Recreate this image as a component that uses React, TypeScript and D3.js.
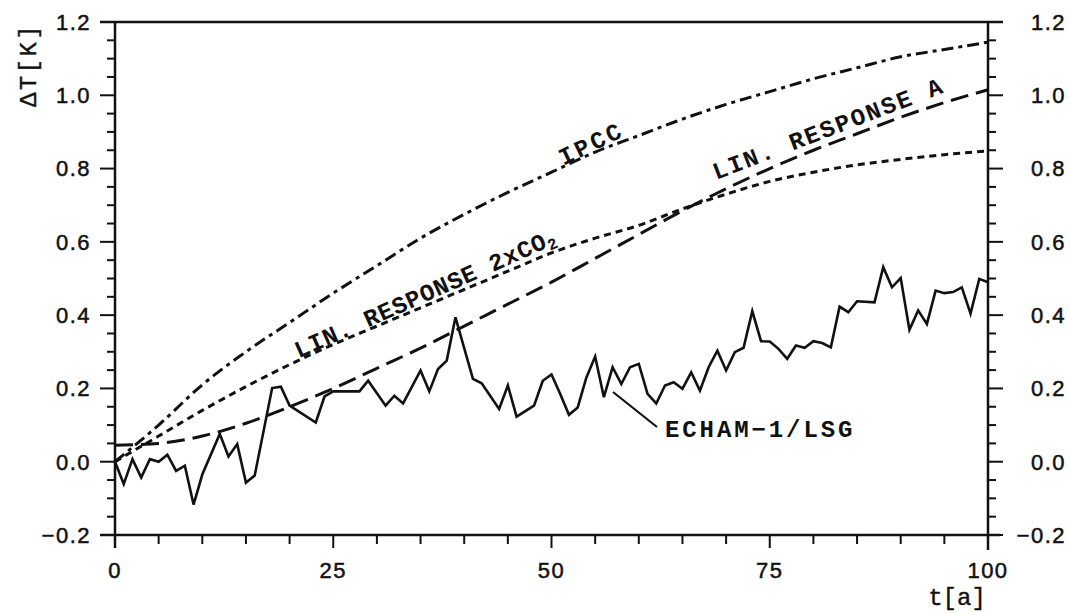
import React from "react";
import * as d3 from "d3";

// ECHAM-1/LSG simulated warming (vertices)
const echamT = [0, 1, 2, 3, 4, 5, 6, 7, 8, 9, 10, 12, 13, 14, 15, 16, 18, 19, 20, 23, 24, 25, 28, 29, 31, 32, 33, 35, 36, 37, 38, 39, 41, 42, 44, 45, 46, 48, 49, 50, 51, 52, 53, 54, 55, 56, 57, 58, 59, 60, 61, 62, 63, 64, 65, 66, 67, 68, 69, 70, 71, 72, 73, 74, 75, 76, 77, 78, 79, 80, 81, 82, 83, 84, 85, 87, 88, 89, 90, 91, 92, 93, 94, 95, 96, 97, 98, 99, 100];
const echamV = [0.0, -0.061, 0.007, -0.043, 0.007, 0.0, 0.019, -0.025, -0.011, -0.117, -0.035, 0.076, 0.014, 0.048, -0.057, -0.038, 0.201, 0.205, 0.153, 0.107, 0.178, 0.192, 0.192, 0.221, 0.153, 0.18, 0.159, 0.249, 0.192, 0.253, 0.276, 0.394, 0.226, 0.214, 0.144, 0.208, 0.123, 0.153, 0.221, 0.238, 0.185, 0.128, 0.148, 0.23, 0.287, 0.176, 0.258, 0.212, 0.258, 0.267, 0.185, 0.159, 0.208, 0.217, 0.199, 0.244, 0.194, 0.258, 0.303, 0.249, 0.299, 0.311, 0.411, 0.329, 0.328, 0.308, 0.281, 0.317, 0.311, 0.329, 0.324, 0.312, 0.423, 0.408, 0.438, 0.435, 0.531, 0.476, 0.501, 0.36, 0.413, 0.376, 0.467, 0.46, 0.463, 0.476, 0.404, 0.499, 0.49];

// smooth response curves
const curveT = [0, 5, 10, 15, 20, 25, 30, 35, 40, 45, 50, 55, 60, 65, 70, 75, 80, 85, 90, 95, 100];
const ipccV = [0.0, 0.1, 0.21, 0.3, 0.38, 0.46, 0.535, 0.61, 0.675, 0.735, 0.79, 0.845, 0.89, 0.935, 0.975, 1.01, 1.045, 1.075, 1.105, 1.125, 1.145];
const co2V = [0.0, 0.07, 0.14, 0.205, 0.265, 0.32, 0.37, 0.42, 0.47, 0.52, 0.57, 0.61, 0.645, 0.69, 0.73, 0.765, 0.79, 0.81, 0.825, 0.838, 0.848];
const linAV = [0.045, 0.05, 0.07, 0.105, 0.15, 0.2, 0.255, 0.31, 0.37, 0.43, 0.49, 0.555, 0.62, 0.685, 0.745, 0.8, 0.85, 0.895, 0.94, 0.98, 1.015];

const yTicks = [-0.2, 0.0, 0.2, 0.4, 0.6, 0.8, 1.0, 1.2];
const yTickLabels = ["\u22120.2", "0.0", "0.2", "0.4", "0.6", "0.8", "1.0", "1.2"];
const xTicks = [0, 25, 50, 75, 100];
const xTickLabels = ["0", "25", "50", "75", "100"];

const MONO = "'Liberation Mono', 'DejaVu Sans Mono', monospace";
const SANS = "'Liberation Sans', Arial, sans-serif";

export default function App() {
  const W = 1070, H = 613;
  const x = d3.scaleLinear().domain([0, 100]).range([115, 988]);
  const y = d3.scaleLinear().domain([-0.2, 1.2]).range([535, 22]);

  const smooth = (vals: number[]) =>
    d3.line<number>()
      .x((_, i) => x(curveT[i]))
      .y((d) => y(d))
      .curve(d3.curveMonotoneX)(vals) || "";
  const echamPath = d3.line<number>()
    .x((_, i) => x(echamT[i]))
    .y((d) => y(d))(echamV) || "";

  const minorY = d3.range(0, 29).map((i) => -0.2 + i * 0.05);
  const minorX = d3.range(0, 21).map((i) => i * 5);

  const x0 = x(0), x1 = x(100), yT = y(1.2), yB = y(-0.2);
  const ink = "#111";

  return (
    <div style={{ position: "absolute", left: 0, top: 0, width: W, height: H, background: "#fff" }}>
      <svg width={W} height={H} style={{ display: "block" }}>
        <rect x={0} y={0} width={W} height={H} fill="#fff" />
        {/* frame */}
        <g stroke={ink} strokeWidth={2.5} fill="none">
          <line x1={x0 - 15} x2={x1 + 15} y1={yT} y2={yT} />
          <line x1={x0 - 15} x2={x1 + 12} y1={yB} y2={yB} />
          <line x1={x0} x2={x0} y1={yT} y2={yB + 13} />
          <line x1={x1} x2={x1} y1={yT} y2={yB + 15} />
        </g>
        {/* y minor / major ticks */}
        <g stroke={ink} strokeWidth={2}>
          {minorY.map((v, i) => {
            const major = i % 4 === 0;
            const len = major ? 15 : 8;
            return (
              <g key={"my" + i}>
                <line x1={x0 - len} x2={x0} y1={y(v)} y2={y(v)} />
                <line x1={x1} x2={x1 + len} y1={y(v)} y2={y(v)} />
              </g>
            );
          })}
          {minorX.map((t, i) => {
            const major = i % 5 === 0;
            const len = major ? 13 : 9;
            return <line key={"mx" + i} x1={x(t)} x2={x(t)} y1={yB} y2={yB + len} />;
          })}
        </g>
        {/* tick labels */}
        <g fontFamily={SANS} fontSize={22} fill={ink} stroke={ink} strokeWidth={0.5} letterSpacing={1.5}>
          {yTicks.map((v, i) => (
            <text key={"yl" + i} x={91} y={y(v)} dy="0.36em" textAnchor="end">{yTickLabels[i]}</text>
          ))}
          {yTicks.map((v, i) => (
            <text key={"yr" + i} x={1066} y={y(v)} dy="0.36em" textAnchor="end">{yTickLabels[i]}</text>
          ))}
          {xTicks.map((t, i) => (
            <text key={"xl" + i} x={x(t)} y={570} dy="0.36em" textAnchor="middle">{xTickLabels[i]}</text>
          ))}
        </g>
        {/* axis titles */}
        <text fontFamily={MONO} fontSize={24} fill={ink} stroke={ink} strokeWidth={0.4} transform="translate(36,65) rotate(-90)" textAnchor="middle" letterSpacing={2.4}>ΔT[K]</text>
        <text fontFamily={MONO} fontSize={24} fill={ink} stroke={ink} strokeWidth={0.4} x={957} y={605} textAnchor="middle">t[a]</text>

        {/* curves */}
        <g fill="none" stroke={ink} strokeWidth={3}>
          <path d={smooth(ipccV)} strokeDasharray="12,5,4,5" />
          <path d={smooth(co2V)} strokeDasharray="7,5" />
          <path d={smooth(linAV)} strokeDasharray="18,8" />
        </g>
        <path d={echamPath} fill="none" stroke={ink} strokeWidth={2.6} strokeLinejoin="miter" />

        {/* curve labels */}
        <g fontFamily={MONO} fontSize={24} fill={ink} fontWeight="bold">
          <text transform="translate(591,143) rotate(-26)" textAnchor="middle" dy="0.35em" letterSpacing={3}>IPCC</text>
          <text transform="translate(828,128) rotate(-21)" textAnchor="middle" dy="0.35em" letterSpacing={2}>LIN. RESPONSE A</text>
          <text transform="translate(425,293) rotate(-24)" textAnchor="middle" dy="0.35em" letterSpacing={0.8}>
            LIN. RESPONSE 2xCO<tspan fontSize={16} dy="4">2</tspan>
          </text>
          <text x={665} y={437} letterSpacing={2.9}>ECHAM−1/LSG</text>
        </g>
        <line x1={613} y1={392} x2={657} y2={427} stroke={ink} strokeWidth={2.2} />
      </svg>
    </div>
  );
}
